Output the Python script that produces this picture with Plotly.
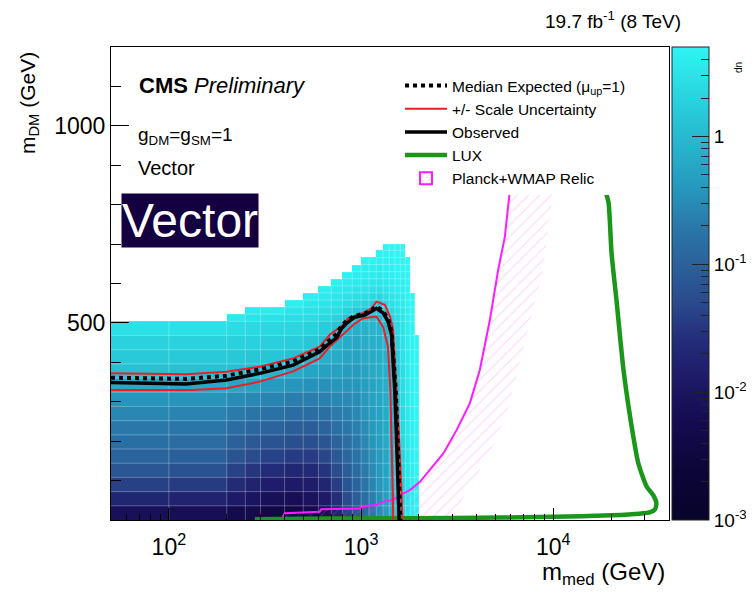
import plotly.graph_objects as go
import math

FONT = "Liberation Sans, Arial, sans-serif"

# ---------------- data ----------------
# heatmap bins (GeV)
m_med_edges = [50, 100, 200, 250, 300, 400, 500, 600, 700, 800, 900, 1000, 1100, 1200,
               1300, 1400, 1500, 1600, 1700, 1800, 1900, 2000]
m_dm_edges = [0, 36, 72, 108, 144, 180, 216, 252, 288, 324, 360, 396, 432, 468, 504,
              522, 540, 558, 576, 594, 612, 630, 648, 666, 684, 700]

# log10(mu) per m_med column, listed from m_DM = 0 upwards (cells above the list are empty)
lg_mu_columns = [
    [-2.1, -1.7, -1.4, -1.15, -0.98, -0.82, -0.7, -0.56, -0.42, -0.2, 0.08, 0.2, 0.3, 0.45],
    [-2.15, -1.75, -1.45, -1.2, -1.02, -0.86, -0.72, -0.58, -0.44, -0.2, 0.08, 0.2, 0.3, 0.45],
    [-2.25, -1.9, -1.62, -1.38, -1.18, -1.0, -0.85, -0.68, -0.5, -0.24, 0.06, 0.18, 0.28, 0.4, 0.55],
    [-2.3, -2.0, -1.75, -1.5, -1.28, -1.1, -0.92, -0.74, -0.54, -0.3, 0.02, 0.16, 0.27, 0.38, 0.48, 0.6],
    [-2.4, -2.1, -1.85, -1.6, -1.38, -1.18, -0.98, -0.78, -0.58, -0.36, -0.06, 0.14, 0.26, 0.36, 0.46, 0.6],
    [-2.4, -2.15, -1.9, -1.68, -1.45, -1.24, -1.04, -0.84, -0.64, -0.42, -0.18, 0.06, 0.22, 0.34, 0.42, 0.5, 0.62],
    [-2.3, -2.05, -1.85, -1.64, -1.44, -1.24, -1.04, -0.84, -0.64, -0.46, -0.26, -0.06, 0.16, 0.3, 0.4, 0.46, 0.52, 0.62],
    [-2.1, -1.9, -1.72, -1.52, -1.34, -1.16, -0.98, -0.8, -0.62, -0.46, -0.3, -0.14, 0.04, 0.22, 0.36, 0.44, 0.5, 0.55, 0.63],
    [-1.75, -1.58, -1.42, -1.26, -1.1, -0.96, -0.82, -0.68, -0.55, -0.42, -0.3, -0.18, -0.05, 0.12, 0.3, 0.4, 0.47, 0.53, 0.58, 0.64],
    [-1.4, -1.28, -1.16, -1.04, -0.93, -0.83, -0.73, -0.63, -0.53, -0.44, -0.35, -0.26, -0.17, -0.06, 0.1, 0.28, 0.4, 0.48, 0.54, 0.59, 0.65],
    [-1.15, -1.05, -0.96, -0.87, -0.79, -0.71, -0.63, -0.56, -0.49, -0.42, -0.35, -0.28, -0.2, -0.12, -0.02, 0.18, 0.34, 0.44, 0.51, 0.56, 0.6, 0.66],
    [-0.9, -0.82, -0.75, -0.68, -0.62, -0.56, -0.5, -0.44, -0.38, -0.33, -0.28, -0.22, -0.16, -0.1, -0.04, 0.1, 0.3, 0.42, 0.5, 0.55, 0.6, 0.63, 0.67],
    [-0.7, -0.64, -0.58, -0.53, -0.48, -0.43, -0.38, -0.34, -0.3, -0.26, -0.22, -0.18, -0.13, -0.08, -0.04, 0.02, 0.2, 0.36, 0.46, 0.52, 0.57, 0.61, 0.67],
    [-0.5, -0.46, -0.42, -0.39, -0.36, -0.33, -0.3, -0.27, -0.24, -0.21, -0.18, -0.15, -0.12, -0.08, -0.04, 0.0, 0.14, 0.32, 0.44, 0.51, 0.56, 0.6, 0.64, 0.68],
    [-0.35, -0.32, -0.3, -0.27, -0.25, -0.22, -0.2, -0.18, -0.16, -0.14, -0.12, -0.1, -0.07, -0.03, 0.05, 0.2, 0.34, 0.44, 0.5, 0.55, 0.59, 0.62, 0.65, 0.67, 0.69],
    [-0.15, -0.14, -0.13, -0.12, -0.11, -0.1, -0.09, -0.08, -0.07, -0.06, -0.05, -0.02, 0.05, 0.15, 0.28, 0.38, 0.45, 0.5, 0.55, 0.59, 0.62, 0.65, 0.67, 0.69, 0.7],
    [0.05, 0.06, 0.07, 0.08, 0.09, 0.1, 0.11, 0.12, 0.14, 0.16, 0.18, 0.22, 0.28, 0.35, 0.42, 0.48, 0.52, 0.56, 0.6, 0.63, 0.65, 0.67, 0.69, 0.7, 0.7],
    [0.3, 0.3, 0.31, 0.32, 0.33, 0.34, 0.35, 0.36, 0.38, 0.4, 0.42, 0.45, 0.48, 0.5, 0.53, 0.56, 0.58, 0.6, 0.62, 0.64, 0.66, 0.67, 0.68, 0.7, 0.7],
    [0.5, 0.5, 0.5, 0.51, 0.52, 0.53, 0.54, 0.55, 0.56, 0.57, 0.58, 0.59, 0.6, 0.61, 0.62, 0.63, 0.64, 0.65, 0.66, 0.67, 0.68, 0.69, 0.7],
    [0.62, 0.62, 0.63, 0.63, 0.64, 0.64, 0.65, 0.65, 0.66, 0.66, 0.67, 0.67, 0.68, 0.68, 0.69, 0.69, 0.7, 0.7],
    [0.68, 0.68, 0.68, 0.69, 0.69, 0.69, 0.69, 0.7, 0.7, 0.7, 0.7, 0.7, 0.7],
]

# contours (m_med, m_DM) in GeV
obs_x = [50, 123, 199, 297, 443, 609, 687, 745, 790, 839, 925, 1044, 1132, 1202, 1303, 1383, 1440, 1468, 1498, 1540, 1578]
obs_y = [349, 345, 355, 372, 393, 427, 449, 462, 485, 499, 514, 520, 529, 537, 525, 503, 470, 406, 330, 161, 0]

exp_x = [50, 123, 199, 297, 443, 609, 687, 745, 790, 839, 925, 1044, 1132, 1202, 1303, 1383, 1440, 1480, 1515, 1560, 1600]
exp_y = [361, 358, 366, 382, 402, 433, 457, 472, 492, 505, 518, 524, 533, 542, 530, 510, 478, 406, 330, 161, 0]

up_x = [50, 123, 199, 297, 443, 609, 687, 807, 857, 1024, 1132, 1202, 1330, 1415, 1468, 1498, 1530, 1580, 1620, 1640]
up_y = [372, 370, 376, 389, 410, 440, 470, 495, 512, 525, 537, 554, 546, 516, 482, 406, 330, 200, 80, 0]

dn_x = [50, 133, 199, 297, 443, 609, 687, 800, 925, 1024, 1202, 1303, 1380, 1420, 1445, 1460, 1470]
dn_y = [330, 330, 334, 351, 377, 410, 440, 470, 498, 512, 516, 490, 440, 330, 200, 80, 0]

lux_x = [280, 500, 1000, 3000, 10000, 20000, 28000, 32000, 33800, 34400, 33100, 30600, 27700, 26100, 23200, 21400, 20100, 19400, 18600, 18000]
lux_y = [2, 3, 4, 5, 8, 12, 16, 20, 27, 42, 63, 85, 144, 211, 380, 550, 677, 804, 842, 1000]

relic_x = [385, 401, 609, 620, 984, 1000, 1066, 1202, 1303, 1468, 1592, 1795, 2025, 2280, 2680, 3140, 3680, 4150, 4680, 5170, 5600, 5950, 6400]
relic_y = [0, 17, 21, 27, 29, 33, 36, 38, 46, 51, 63, 76, 97, 127, 169, 228, 296, 381, 508, 635, 719, 838, 1000]

relic_band_x = [2960, 3680, 4680, 5950, 7600, 8850, 10000, 11000]
relic_band_y = [0, 85, 169, 296, 508, 635, 838, 1000]

x_tick_vals = [100, 1000, 10000]
x_tick_text = ["10<sup>2</sup>", "10<sup>3</sup>", "10<sup>4</sup>"]
x_minor_vals = [60, 70, 80, 90, 200, 300, 400, 500, 600, 700, 800, 900,
                2000, 3000, 4000, 5000, 6000, 7000, 8000, 9000, 20000, 30000]
y_tick_vals = [500, 1000]
cb_tick_vals = [-3, -2, -1, 0]
cb_tick_text = ["10<sup>-3</sup>", "10<sup>-2</sup>", "10<sup>-1</sup>", "1"]

# ---------------- build ----------------
n_rows = len(m_dm_edges) - 1
n_cols = len(m_med_edges) - 1
z = [[(lg_mu_columns[c][r] if r < len(lg_mu_columns[c]) else None) for c in range(n_cols)]
     for r in range(n_rows)]

# faint bin-boundary grid drawn over the filled cells (ROOT COLZ look)
grid_x, grid_y = [], []
for c in range(n_cols):
    x0, x1 = m_med_edges[c], m_med_edges[c + 1]
    top = m_dm_edges[len(lg_mu_columns[c])]
    grid_x += [x1, x1, None]
    grid_y += [0, top, None]
    for r in range(1, len(lg_mu_columns[c])):
        grid_x += [x0, x1, None]
        grid_y += [m_dm_edges[r], m_dm_edges[r], None]

zmin, zmax = -3.0, 0.7
stops = [(-3.0, "#08042a"), (-2.6, "#0c0638"), (-2.2, "#150c52"), (-1.9, "#1e1a68"),
         (-1.6, "#232c78"), (-1.3, "#2a4a8c"), (-1.0, "#2b619b"), (-0.7, "#2a78aa"),
         (-0.4, "#2698bd"), (-0.1, "#27b2cb"), (0.2, "#28cad9"), (0.45, "#2be0e6"),
         (0.7, "#30f4f4")]
colorscale = [[(v - zmin) / (zmax - zmin), c] for v, c in stops]

minor_cb = [k + math.log10(m) for k in range(-3, 1) for m in range(2, 10) if k + math.log10(m) <= zmax]

# page has an 8px body margin: the figure starts at page (8, 8)
OFF = 8
W, H = 746, 586
L, T = 111 - OFF, 47 - OFF
R = W - (669 - OFF)
B = H - (520 - OFF)
PW, PH = W - L - R, H - T - B


def px(xp):  # page pixel -> paper x
    return (xp - OFF - L) / PW


def py(yp):  # page pixel -> paper y
    return (H - B - (yp - OFF)) / PH


cb_x = px(672)

fig = go.Figure()

fig.add_trace(go.Heatmap(
    x=m_med_edges, y=m_dm_edges, z=z, zmin=zmin, zmax=zmax, colorscale=colorscale,
    hoverinfo="skip",
    colorbar=dict(x=cb_x, xanchor="left", xpad=0, y=0, yanchor="bottom", ypad=0,
                  len=1, thickness=37, outlinewidth=1, outlinecolor="#222",
                  tickmode="array", tickvals=cb_tick_vals + minor_cb,
                  ticktext=cb_tick_text + [""] * len(minor_cb),
                  ticks="inside", ticklen=8, tickcolor="#222", tickwidth=1,
                  tickfont=dict(family=FONT, size=19, color="black")),
))
fig.add_trace(go.Scatter(x=grid_x, y=grid_y, mode="lines", showlegend=False, hoverinfo="skip",
                         line=dict(color="rgba(255,255,255,0.28)", width=1)))

# overlay colorbar carrying the long major ticks only
fig.add_trace(go.Scatter(
    x=[None], y=[None], mode="markers", showlegend=False, hoverinfo="skip",
    marker=dict(color=[0], cmin=zmin, cmax=zmax, showscale=True,
                colorscale=[[0, "rgba(0,0,0,0)"], [1, "rgba(0,0,0,0)"]],
                colorbar=dict(x=cb_x, xanchor="left", xpad=0, y=0, yanchor="bottom", ypad=0,
                              len=1, thickness=37, outlinewidth=0,
                              tickmode="array", tickvals=cb_tick_vals, showticklabels=False,
                              ticks="inside", ticklen=17, tickcolor="#222", tickwidth=1)),
))

pattern = dict(shape="/", fgcolor="rgba(255,60,255,0.45)", bgcolor="rgba(0,0,0,0)",
               size=8, solidity=0.14)

fig.add_trace(go.Scatter(
    x=relic_x + relic_band_x[::-1], y=relic_y + relic_band_y[::-1], mode="lines",
    fill="toself", fillcolor="rgba(0,0,0,0)", fillpattern=pattern,
    line=dict(width=0), showlegend=False, hoverinfo="skip"))
fig.add_trace(go.Scatter(x=relic_x, y=relic_y, mode="lines", line=dict(color="#ff1aff", width=2),
                         showlegend=False, hoverinfo="skip"))
fig.add_trace(go.Scatter(x=lux_x, y=lux_y, mode="lines", name="LUX", legendrank=4,
                         line=dict(color="#1a961a", width=4.5, shape="spline", smoothing=0.6)))
fig.add_trace(go.Scatter(x=up_x, y=up_y, mode="lines", name="+/- Scale Uncertainty", legendrank=2,
                         line=dict(color="#ee1c24", width=2)))
fig.add_trace(go.Scatter(x=dn_x, y=dn_y, mode="lines", showlegend=False,
                         line=dict(color="#ee1c24", width=2)))
fig.add_trace(go.Scatter(x=obs_x, y=obs_y, mode="lines", name="Observed", legendrank=3,
                         line=dict(color="black", width=3.5)))
fig.add_trace(go.Scatter(x=exp_x, y=exp_y, mode="lines", name="Median Expected (μ<sub>up</sub>=1)",
                         legendrank=1, line=dict(color="black", width=4, dash="4px,4px")))
# legend-only entry for the relic band (a hatched box; its bar lies outside the axis ranges)
fig.add_trace(go.Bar(x=[1e6], y=[-100], name="Planck+WMAP Relic", legendrank=5, hoverinfo="skip",
                     marker=dict(color="rgba(0,0,0,0)", line=dict(color="#ff1aff", width=2),
                                 pattern=dict(shape="/", fgcolor="rgba(255,120,255,0.7)",
                                              bgcolor="white", size=5, solidity=0.2))))

ann = []
ann.append(dict(text="<b>CMS</b> <i>Preliminary</i>", x=px(137), y=py(85), xanchor="left",
                yanchor="middle", font=dict(size=22)))
ann.append(dict(text="g<sub>DM</sub>=g<sub>SM</sub>=1", x=px(136), y=py(136), xanchor="left",
                yanchor="middle", font=dict(size=19)))
ann.append(dict(text="Vector", x=px(136), y=py(168), xanchor="left", yanchor="middle",
                font=dict(size=20)))
ann.append(dict(text="Vector", x=px(190), y=py(220), xanchor="center", yanchor="middle",
                font=dict(size=48, color="white"), bgcolor="#140040", borderpad=0))
ann.append(dict(text="19.7 fb<sup>-1</sup> (8 TeV)", x=px(683), y=py(20), xanchor="right",
                yanchor="middle", font=dict(size=19)))
ann.append(dict(text="m<sub>med</sub> (GeV)", x=px(667), y=py(556), xanchor="right",
                yanchor="top", font=dict(size=24)))
ann.append(dict(text="m<sub>DM</sub> (GeV)", x=px(29), y=py(103), xanchor="center",
                yanchor="middle", textangle=-90, font=dict(size=21)))
ann.append(dict(text="dn", x=px(738), y=py(67), xanchor="center", yanchor="middle",
                textangle=-90, font=dict(size=10)))
for a in ann:
    a.update(xref="paper", yref="paper", showarrow=False)
    a["font"].setdefault("color", "black")
    a["font"]["family"] = FONT

fig.update_layout(
    width=W, height=H, margin=dict(l=L, r=R, t=T, b=B, autoexpand=False),
    paper_bgcolor="white", plot_bgcolor="white",
    font=dict(family=FONT, color="black"),
    annotations=ann,
    legend=dict(x=px(400), y=py(69), xanchor="left", yanchor="top", bgcolor="white",
                borderwidth=0, font=dict(family=FONT, size=15.5, color="black"),
                itemwidth=42, traceorder="normal"),
    xaxis=dict(type="log", range=[math.log10(50), math.log10(40000)], showgrid=False, zeroline=False,
               tickmode="array", tickvals=x_tick_vals, ticktext=x_tick_text,
               ticks="inside", ticklen=12, tickcolor="black", ticklabelstandoff=6,
               tickfont=dict(size=23), showline=True, linecolor="black", linewidth=1, mirror=True,
               minor=dict(tickmode="array", tickvals=x_minor_vals, ticks="inside", ticklen=6,
                          tickcolor="black", showgrid=False)),
    yaxis=dict(range=[0, 1200], showgrid=False, zeroline=False,
               tickmode="array", tickvals=y_tick_vals,
               ticks="inside", ticklen=18, tickcolor="black",
               tickfont=dict(size=23), showline=True, linecolor="black", linewidth=1, mirror=True,
               minor=dict(dtick=100, ticks="inside", ticklen=10, tickcolor="black", showgrid=False)),
)

fig.write_html("out.html")
